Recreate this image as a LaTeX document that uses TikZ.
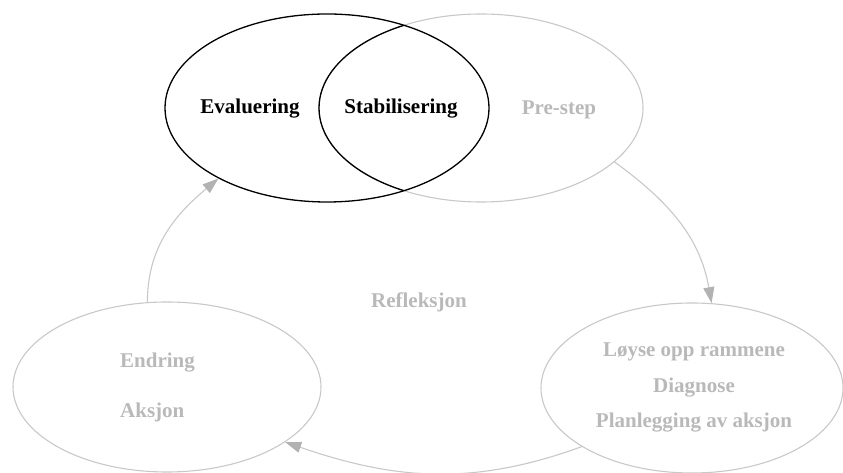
\documentclass[tikz,border=0pt]{standalone}
\usepackage{fontspec}
\setmainfont{Liberation Serif}
\usetikzlibrary{arrows.meta, shapes.geometric}

\definecolor{lightline}{RGB}{200,200,200}
\definecolor{greytxt}{RGB}{185,185,185}
\definecolor{tipgrey}{RGB}{178,178,178}

\begin{document}
\begin{tikzpicture}[
    x=1pt, y=1pt,
    ring/.style={
        ellipse, draw=lightline, line width=1.1pt, inner sep=0pt
    },
    darkring/.style={
        ellipse, draw=black, line width=1.3pt, inner sep=0pt
    },
    darktext/.style={
        inner sep=0pt, text=black, font=\fontsize{21}{25}\selectfont\bfseries
    },
    greytext/.style={
        inner sep=0pt, text=greytxt, font=\fontsize{21}{25}\selectfont\bfseries
    },
    arrow/.style={-{Triangle[length=16pt, width=11pt, color=tipgrey]}, draw=lightline, line width=1.1pt}
]
\useasboundingbox (0,0) rectangle (843,473);

% --- Venn (top) ---
\node[ring, minimum width=324, minimum height=188] (stabring) at (481,365) {};
\node[darkring, minimum width=324, minimum height=188] (evalring) at (327,365) {};
\begin{scope}
    \clip (evalring.center) ellipse [x radius=162, y radius=94];
    \draw[black, line width=1.3pt] (stabring.center) ellipse [x radius=162, y radius=94];
\end{scope}

\node[darktext, anchor=base] (evaltxt) at (250,359) {Evaluering};
\node[darktext, anchor=base] (stabtxt) at (401,359) {Stabilisering};
\node[greytext, anchor=base] (pretxt) at (559,358) {Pre-step};

% --- lower ellipses ---
\node[ring, minimum width=308, minimum height=170] (endring) at (167,86) {};
\node[greytext, anchor=west, align=left, font=\fontsize{21}{50}\selectfont\bfseries]
    (endtxt) at (120,86) {Endring\\Aksjon};

\node[ring, minimum width=302, minimum height=170] (planring) at (692,85) {};
\node[greytext, align=center, font=\fontsize{21}{35.5}\selectfont\bfseries]
    (plantxt) at (694,85.4) {Løyse opp rammene\\Diagnose\\Planlegging av aksjon};

% --- middle ---
\node[greytext, anchor=base] (refl) at (419,165) {Refleksjon};

% --- cycle arrows ---
\draw[arrow] (stabring.-22) to[out=-36, in=100] (planring.77);
\draw[arrow] (planring.208) to[out=200, in=-19] (endring.-25);
\draw[arrow] (endring.103) to[out=90, in=220] (evalring.213);

\end{tikzpicture}
\end{document}
